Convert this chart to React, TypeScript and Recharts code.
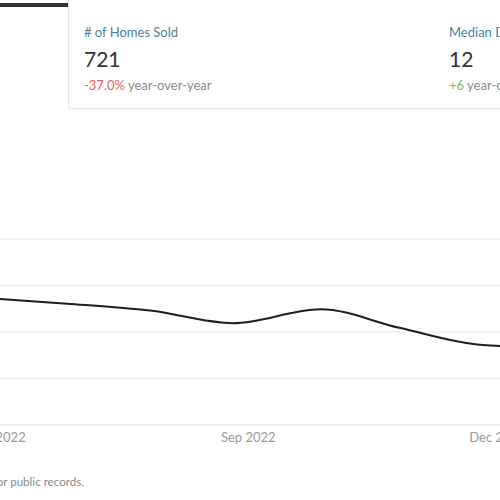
import { LineChart, Line, XAxis, YAxis, CartesianGrid } from 'recharts';

// point dates in months since Jan 2022 (0 = Jan)
const pointTimes = [4.82, 5.82, 6.82, 7.82, 8.87, 9.82, 10.82, 11.82];
const seriesValues = [273, 261, 246, 219, 249, 209, 172, 166];
const tickTimes = [5, 8, 11];
const tickLabels = ['Jun 2022', 'Sep 2022', 'Dec 2022'];
const yTicks = [0, 100, 200, 300, 400];

const chartData = pointTimes.map((t, i) => ({ t, value: seriesValues[i] }));

const font = 'Lato, "Open Sans", sans-serif';

function Stat({ left, label, value, change, changeColor }: {
  left: number; label: string; value: string; change: string; changeColor: string;
}) {
  return (
    <>
      <div style={{ position: 'absolute', left, top: 23, lineHeight: '18px', fontSize: 13, color: '#4f7f9c', whiteSpace: 'nowrap' }}>
        {label}
      </div>
      <div style={{ position: 'absolute', left, top: 46, lineHeight: '26px', fontSize: 21, color: '#333', whiteSpace: 'nowrap' }}>
        {value}
      </div>
      <div style={{ position: 'absolute', left, top: 76, lineHeight: '18px', fontSize: 13, color: '#8a8a8a', whiteSpace: 'nowrap' }}>
        <span style={{ color: changeColor }}>{change}</span> year-over-year
      </div>
    </>
  );
}

export default function App() {
  return (
    <div style={{ position: 'fixed', left: 0, top: 0, width: 500, height: 500, overflow: 'hidden', background: '#fff', fontFamily: font }}>
      <div style={{ position: 'absolute', left: -20, top: 3, width: 88, height: 4, background: '#333' }} />
      <div
        style={{
          position: 'absolute', left: 68, top: -10, width: 520, height: 117,
          border: '1px solid #e6e6e6', borderRadius: 3, boxShadow: '0 1px 2px rgba(0,0,0,0.05)',
        }}
      />
      <Stat left={84} label="# of Homes Sold" value="721" change="-37.0%" changeColor="#e0665c" />
      <Stat left={449} label="Median Days on Market" value="12" change="+6" changeColor="#7bb86b" />

      <div style={{ position: 'absolute', left: -84, top: 229 }}>
        <LineChart width={706} height={226} data={chartData} margin={{ top: 10, right: 0, bottom: 0, left: 0 }}>
          <CartesianGrid vertical={false} stroke="#e8e8e8" />
          <XAxis
            dataKey="t"
            type="number"
            domain={[4, 12.5]}
            ticks={tickTimes}
            tickFormatter={(v: number) => tickLabels[tickTimes.indexOf(v)]}
            tickLine={false}
            axisLine={{ stroke: '#e3e3e3' }}
            tick={{ fill: '#999', fontSize: 13, fontFamily: font }}
            height={30}
          />
          <YAxis hide domain={[0, 400]} ticks={yTicks} />
          <Line
            type="monotone"
            dataKey="value"
            stroke="#1e1e1e"
            strokeWidth={2}
            dot={false}
            isAnimationActive={false}
          />
        </LineChart>
      </div>

      <div style={{ position: 'absolute', right: 416, top: 474, lineHeight: '16px', fontSize: 11.6, color: '#8a8a8a', whiteSpace: 'nowrap' }}>
        Based on Redfin calculations of home data from MLS and/or public records.
      </div>
    </div>
  );
}
